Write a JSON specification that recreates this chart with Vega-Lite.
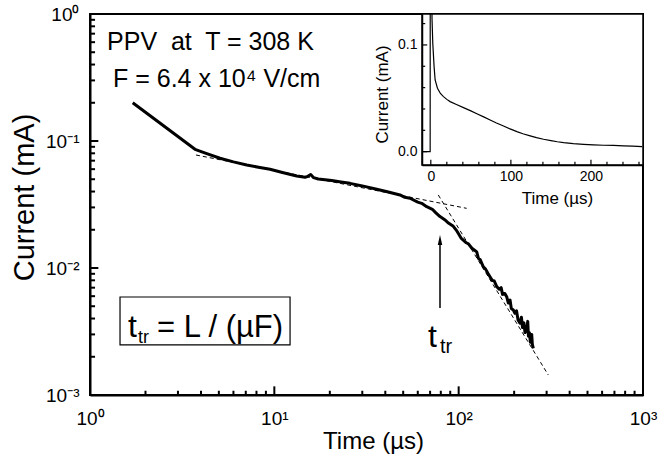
{
  "$schema": "https://vega.github.io/schema/vega-lite/v6.json",
  "width": 553,
  "height": 381,
  "autosize": "none",
  "padding": {"left": 90, "top": 14, "right": 17, "bottom": 63},
  "background": "white",
  "config": {
    "font": "Liberation Sans",
    "view": {"stroke": "black", "strokeWidth": 2},
    "axis": {"grid": false, "domainColor": "black", "tickColor": "black", "labelColor": "black", "titleColor": "black", "titleFontWeight": "normal", "labelFont": "Liberation Sans", "titleFont": "Liberation Sans", "ticks": true, "tickSize": 0, "tickOpacity": 0}
  },
  "data": {"values": [{}]},
  "datasets": {
    "main": [
      {"t": 1.705, "I": 0.2001}, {"t": 3.712, "I": 0.086}, {"t": 4.3, "I": 0.0795}, {"t": 5.074, "I": 0.0731},
      {"t": 6.0, "I": 0.0685}, {"t": 7.083, "I": 0.0647}, {"t": 8.2, "I": 0.0622}, {"t": 9.474, "I": 0.0599},
      {"t": 11.2, "I": 0.0563}, {"t": 13.22, "I": 0.053}, {"t": 14.67, "I": 0.0518}, {"t": 15.2, "I": 0.0527},
      {"t": 15.75, "I": 0.0545}, {"t": 16.3, "I": 0.0515}, {"t": 17.32, "I": 0.0502}, {"t": 20.5, "I": 0.0488},
      {"t": 23.0, "I": 0.0476}, {"t": 25.73, "I": 0.0464}, {"t": 30.0, "I": 0.0443}, {"t": 35.93, "I": 0.0417},
      {"t": 41.0, "I": 0.0398}, {"t": 48.06, "I": 0.0376}, {"t": 51.0, "I": 0.036}, {"t": 54.45, "I": 0.0354},
      {"t": 60.0, "I": 0.033}, {"t": 63.0, "I": 0.0323}, {"t": 67.08, "I": 0.0304}, {"t": 72.0, "I": 0.029},
      {"t": 75.0, "I": 0.0273}, {"t": 79.2, "I": 0.0254}, {"t": 84.0, "I": 0.024}, {"t": 88.0, "I": 0.0226},
      {"t": 93.54, "I": 0.0213}, {"t": 97.0, "I": 0.0199}, {"t": 100.0, "I": 0.0185}, {"t": 103.0, "I": 0.0172},
      {"t": 105.9, "I": 0.0166}, {"t": 110.0, "I": 0.0158}, {"t": 113.0, "I": 0.0155}, {"t": 118.0, "I": 0.0143},
      {"t": 122.0, "I": 0.0138}, {"t": 125.3, "I": 0.0134}, {"t": 128.0, "I": 0.0119}, {"t": 131.0, "I": 0.0116},
      {"t": 136.1, "I": 0.0102}, {"t": 140.0, "I": 0.0098}, {"t": 144.0, "I": 0.0091}, {"t": 147.9, "I": 0.00854},
      {"t": 152.0, "I": 0.008}, {"t": 156.0, "I": 0.0079}, {"t": 160.9, "I": 0.00713}, {"t": 166.0, "I": 0.0068},
      {"t": 170.0, "I": 0.007}, {"t": 173.0, "I": 0.0062}, {"t": 178.0, "I": 0.0063}, {"t": 182.2, "I": 0.00594},
      {"t": 186.0, "I": 0.0053}, {"t": 190.0, "I": 0.0056}, {"t": 193.0, "I": 0.0048}, {"t": 197.9, "I": 0.00467},
      {"t": 202.0, "I": 0.0044}, {"t": 206.0, "I": 0.0046}, {"t": 210.0, "I": 0.0039}, {"t": 215.2, "I": 0.00367},
      {"t": 219.0, "I": 0.0041}, {"t": 222.0, "I": 0.0034}, {"t": 226.0, "I": 0.0037}, {"t": 229.0, "I": 0.0031},
      {"t": 233.9, "I": 0.00325}, {"t": 237.0, "I": 0.0038}, {"t": 239.0, "I": 0.0029}, {"t": 242.0, "I": 0.0031},
      {"t": 245.0, "I": 0.0026}, {"t": 249.0, "I": 0.003}, {"t": 251.0, "I": 0.0025}, {"t": 254.1, "I": 0.00233}
    ],
    "fits": [
      {"seg": "a", "t": 3.758, "I": 0.0776}, {"seg": "a", "t": 110.5, "I": 0.0295},
      {"seg": "b", "t": 77.5, "I": 0.0376}, {"seg": "b", "t": 306.4, "I": 0.001437}
    ],
    "inset": [
      {"t": -11, "I": 0}, {"t": -0.8, "I": 0}, {"t": -0.6, "I": 0.4}, {"t": 0.9, "I": 0.2}, {"t": 1.5, "I": 0.125},
      {"t": 2.46, "I": 0.1016}, {"t": 4.1, "I": 0.0797}, {"t": 5.4, "I": 0.0672}, {"t": 8.3, "I": 0.0594},
      {"t": 12, "I": 0.0545}, {"t": 15.8, "I": 0.0516}, {"t": 20, "I": 0.049}, {"t": 24.1, "I": 0.0469},
      {"t": 32, "I": 0.0442}, {"t": 40.8, "I": 0.0413}, {"t": 50, "I": 0.0382}, {"t": 57.5, "I": 0.0356},
      {"t": 66, "I": 0.0326}, {"t": 74.1, "I": 0.0297}, {"t": 82, "I": 0.0269}, {"t": 90.8, "I": 0.0241},
      {"t": 99, "I": 0.0213}, {"t": 107.5, "I": 0.0188}, {"t": 115, "I": 0.0168}, {"t": 124.1, "I": 0.0148},
      {"t": 132, "I": 0.0131}, {"t": 140.8, "I": 0.0116}, {"t": 150, "I": 0.0103}, {"t": 158, "I": 0.0093},
      {"t": 166, "I": 0.0085}, {"t": 178, "I": 0.0076}, {"t": 190.8, "I": 0.0069}, {"t": 203, "I": 0.0064},
      {"t": 215.8, "I": 0.006}, {"t": 228, "I": 0.0058}, {"t": 240.8, "I": 0.0055}, {"t": 252, "I": 0.0051},
      {"t": 264, "I": 0.0047}
    ],
    "xmajor": [{"v": 10}, {"v": 100}, {"v": 1000}],
    "xminor": [{"v": 2}, {"v": 3}, {"v": 4}, {"v": 5}, {"v": 6}, {"v": 7}, {"v": 8}, {"v": 9},
      {"v": 20}, {"v": 30}, {"v": 40}, {"v": 50}, {"v": 60}, {"v": 70}, {"v": 80}, {"v": 90},
      {"v": 200}, {"v": 300}, {"v": 400}, {"v": 500}, {"v": 600}, {"v": 700}, {"v": 800}, {"v": 900}],
    "ymajor": [{"v": 0.001}, {"v": 0.01}, {"v": 0.1}, {"v": 1}],
    "yminor": [{"v": 0.002}, {"v": 0.003}, {"v": 0.004}, {"v": 0.005}, {"v": 0.006}, {"v": 0.007}, {"v": 0.008}, {"v": 0.009},
      {"v": 0.02}, {"v": 0.03}, {"v": 0.04}, {"v": 0.05}, {"v": 0.06}, {"v": 0.07}, {"v": 0.08}, {"v": 0.09},
      {"v": 0.2}, {"v": 0.3}, {"v": 0.4}, {"v": 0.5}, {"v": 0.6}, {"v": 0.7}, {"v": 0.8}, {"v": 0.9}],
    "ixmajor": [{"v": 0}, {"v": 100}, {"v": 200}],
    "ixminor": [{"v": 20}, {"v": 40}, {"v": 60}, {"v": 80}, {"v": 120}, {"v": 140}, {"v": 160}, {"v": 180}, {"v": 220}, {"v": 240}, {"v": 260}],
    "iymajor": [{"v": 0}, {"v": 0.1}],
    "iyminor": [{"v": 0.02}, {"v": 0.04}, {"v": 0.06}, {"v": 0.08}, {"v": 0.12}]
  },
  "layer": [
    {
      "layer": [
        {
          "data": {"name": "fits"},
          "mark": {"type": "line", "strokeDash": [4, 3], "strokeWidth": 1, "color": "black"},
          "encoding": {
            "x": {
              "field": "t", "type": "quantitative",
              "scale": {"type": "log", "domain": [1, 1000], "nice": false},
              "axis": {
                "orient": "bottom",
                "values": [1, 10, 100, 1000],
                "labelExpr": "datum.value == 1 ? '10⁰' : datum.value == 10 ? '10¹' : datum.value == 100 ? '10²' : '10³'",
                "labelFontSize": 19, "labelPadding": 14, "labelFlush": false, "labelOverlap": false,
                "domainWidth": 2,
                "title": "Time (µs)", "titleFontSize": 24, "titleX": 283, "titleY": 53, "titleBaseline": "alphabetic",
                "zindex": 1
              }
            },
            "y": {
              "field": "I", "type": "quantitative",
              "scale": {"type": "log", "domain": [0.001, 1], "nice": false},
              "axis": {
                "orient": "left",
                "values": [0.001, 0.01, 0.1, 1],
                "labelExpr": "datum.value == 1 ? '10⁰' : datum.value == 0.1 ? '10⁻¹' : datum.value == 0.01 ? '10⁻²' : '10⁻³'",
                "labelFontSize": 19, "labelPadding": 11, "labelFlush": false, "labelOverlap": false,
                "domainWidth": 2,
                "title": "Current (mA)", "titleFontSize": 29, "titleX": -57, "titleY": 183, "titleBaseline": "alphabetic",
                "zindex": 1
              }
            },
            "detail": {"field": "seg"}
          }
        },
        {
          "data": {"name": "xmajor"},
          "mark": {"type": "rule", "strokeWidth": 2, "color": "black"},
          "encoding": {"x": {"field": "v", "type": "quantitative"}, "y": {"datum": 0.001, "type": "quantitative"}, "y2": {"datum": 0.00117}}
        },
        {
          "data": {"name": "xminor"},
          "mark": {"type": "rule", "strokeWidth": 2, "color": "black"},
          "encoding": {"x": {"field": "v", "type": "quantitative"}, "y": {"datum": 0.001, "type": "quantitative"}, "y2": {"datum": 0.00108}}
        },
        {
          "data": {"name": "ymajor"},
          "mark": {"type": "rule", "strokeWidth": 2, "color": "black"},
          "encoding": {"y": {"field": "v", "type": "quantitative"}, "x": {"datum": 1, "type": "quantitative"}, "x2": {"datum": 1.11}}
        },
        {
          "data": {"name": "yminor"},
          "mark": {"type": "rule", "strokeWidth": 2, "color": "black"},
          "encoding": {"y": {"field": "v", "type": "quantitative"}, "x": {"datum": 1, "type": "quantitative"}, "x2": {"datum": 1.065}}
        },
        {
          "data": {"name": "main"},
          "mark": {"type": "line", "strokeWidth": 3, "color": "black", "strokeJoin": "round"},
          "encoding": {
            "x": {"field": "t", "type": "quantitative"},
            "y": {"field": "I", "type": "quantitative"}
          }
        },
        {
          "mark": {"type": "rule", "strokeWidth": 1.5, "color": "black"},
          "encoding": {
            "x": {"datum": 79.2, "type": "quantitative"},
            "y": {"datum": 0.00484, "type": "quantitative"},
            "y2": {"datum": 0.0168}
          }
        },
        {
          "mark": {"type": "point", "shape": "M0,-1L0.45,1L-0.45,1Z", "filled": true, "size": 100, "color": "black", "opacity": 1},
          "encoding": {
            "x": {"datum": 79.2, "type": "quantitative"},
            "y": {"datum": 0.0166, "type": "quantitative"}
          }
        },
        {
          "mark": {"type": "rect", "fillOpacity": 0, "stroke": "black", "strokeWidth": 1.2},
          "encoding": {
            "x": {"datum": 1.455, "type": "quantitative"},
            "x2": {"datum": 12.17},
            "y": {"datum": 0.00591, "type": "quantitative"},
            "y2": {"datum": 0.00248}
          }
        },
        {
          "mark": {"type": "text", "text": "PPV\u00a0 at\u00a0 T = 308 K", "align": "left", "baseline": "alphabetic", "fontSize": 25, "color": "black"},
          "encoding": {"x": {"datum": 1.237, "type": "quantitative"}, "y": {"datum": 0.5206, "type": "quantitative"}}
        },
        {
          "mark": {"type": "text", "text": "F = 6.4 x 10⁴ V/cm", "align": "left", "baseline": "alphabetic", "fontSize": 25, "color": "black"},
          "encoding": {"x": {"datum": 1.333, "type": "quantitative"}, "y": {"datum": 0.2648, "type": "quantitative"}}
        },
        {
          "mark": {"type": "text", "text": "t", "align": "left", "baseline": "alphabetic", "fontSize": 32, "color": "black"},
          "encoding": {"x": {"datum": 1.607, "type": "quantitative"}, "y": {"datum": 0.00288, "type": "quantitative"}}
        },
        {
          "mark": {"type": "text", "text": "tr", "align": "left", "baseline": "alphabetic", "fontSize": 18, "color": "black"},
          "encoding": {"x": {"datum": 1.821, "type": "quantitative"}, "y": {"datum": 0.00258, "type": "quantitative"}}
        },
        {
          "mark": {"type": "text", "text": "= L / (µF)", "align": "left", "baseline": "alphabetic", "fontSize": 31, "color": "black"},
          "encoding": {"x": {"datum": 2.31, "type": "quantitative"}, "y": {"datum": 0.00288, "type": "quantitative"}}
        },
        {
          "mark": {"type": "text", "text": "t", "align": "left", "baseline": "alphabetic", "fontSize": 32, "color": "black"},
          "encoding": {"x": {"datum": 68.2, "type": "quantitative"}, "y": {"datum": 0.00239, "type": "quantitative"}}
        },
        {
          "mark": {"type": "text", "text": "tr", "align": "left", "baseline": "alphabetic", "fontSize": 20, "color": "black"},
          "encoding": {"x": {"datum": 79.2, "type": "quantitative"}, "y": {"datum": 0.00214, "type": "quantitative"}}
        }
      ]
    },
    {
      "layer": [
        {
          "mark": {"type": "rect", "fill": "white", "stroke": "black", "strokeWidth": 1.5},
          "encoding": {
            "x": {
              "datum": -11, "type": "quantitative",
              "scale": {"domain": [-11, 265], "range": [332, 553], "nice": false, "zero": false},
              "axis": {
                "orient": "bottom", "offset": -230,
                "values": [0, 100, 200],
                "labelExpr": "datum.value == 0 ? '0' : datum.value == 100 ? '100' : '200'",
                "labelFontSize": 14, "labelPadding": 4, "labelFlush": false, "labelOverlap": false,
                "domainWidth": 1.5,
                "title": "Time (µs)", "titleFontSize": 17, "titleX": 467, "titleY": 38, "titleBaseline": "alphabetic",
                "zindex": 2
              }
            },
            "x2": {"datum": 265},
            "y": {
              "datum": -0.0125, "type": "quantitative",
              "scale": {"domain": [-0.0125, 0.129], "range": [151, 0], "nice": false, "zero": false},
              "axis": {
                "orient": "left", "offset": -332,
                "values": [0, 0.1],
                "labelExpr": "datum.value == 0 ? '0.0' : '0.1'",
                "labelFontSize": 14, "labelPadding": 5, "labelFlush": false, "labelOverlap": false,
                "domainWidth": 1.5,
                "title": "Current (mA)", "titleFontSize": 17, "titleX": -35, "titleY": 80, "titleBaseline": "alphabetic",
                "zindex": 2
              }
            },
            "y2": {"datum": 0.129}
          }
        },
        {
          "data": {"name": "ixmajor"},
          "mark": {"type": "rule", "strokeWidth": 1.2, "color": "black"},
          "encoding": {"x": {"field": "v", "type": "quantitative"}, "y": {"datum": -0.0125, "type": "quantitative"}, "y2": {"datum": -0.0075}}
        },
        {
          "data": {"name": "ixminor"},
          "mark": {"type": "rule", "strokeWidth": 1.2, "color": "black"},
          "encoding": {"x": {"field": "v", "type": "quantitative"}, "y": {"datum": -0.0125, "type": "quantitative"}, "y2": {"datum": -0.0095}}
        },
        {
          "data": {"name": "iymajor"},
          "mark": {"type": "rule", "strokeWidth": 1.2, "color": "black"},
          "encoding": {"y": {"field": "v", "type": "quantitative"}, "x": {"datum": -11, "type": "quantitative"}, "x2": {"datum": -4.5}}
        },
        {
          "data": {"name": "iyminor"},
          "mark": {"type": "rule", "strokeWidth": 1.2, "color": "black"},
          "encoding": {"y": {"field": "v", "type": "quantitative"}, "x": {"datum": -11, "type": "quantitative"}, "x2": {"datum": -7}}
        },
        {
          "data": {"name": "inset"},
          "mark": {"type": "line", "strokeWidth": 1.2, "color": "black", "clip": true},
          "encoding": {
            "x": {"field": "t", "type": "quantitative"},
            "y": {"field": "I", "type": "quantitative"}
          }
        }
      ]
    }
  ],
  "resolve": {"scale": {"x": "independent", "y": "independent"}, "axis": {"x": "independent", "y": "independent"}}
}
